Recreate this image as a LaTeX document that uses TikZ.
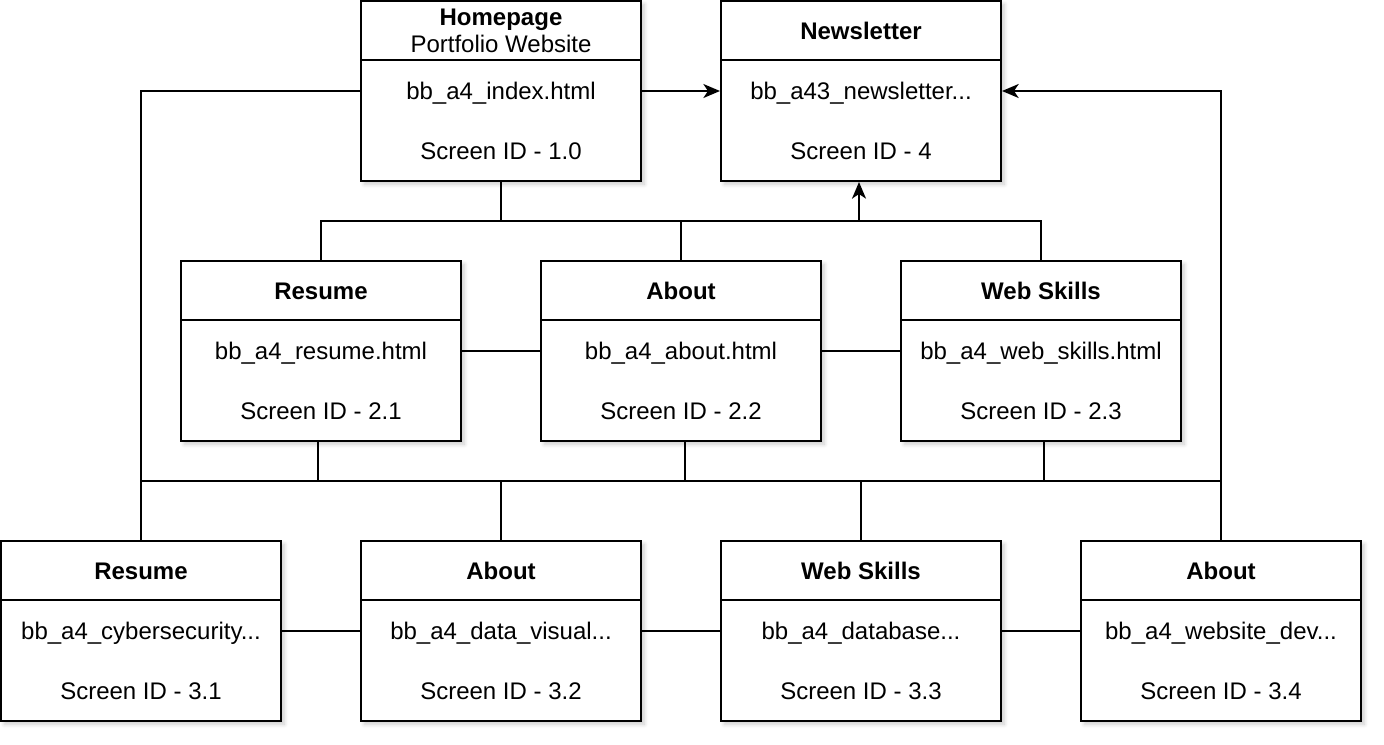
\documentclass[tikz,border=0pt]{standalone}
\usepackage{fontspec}
\setmainfont{Liberation Sans}
\usepackage{tikz}
\usetikzlibrary{arrows.meta}
\usetikzlibrary{shadows.blur}

\tikzset{
  screenbox/.style={draw, line width=1.5pt, fill=white, minimum width=210pt, minimum height=135pt, inner sep=0pt,
    blur shadow={shadow xshift=2.5pt, shadow yshift=-2.5pt, shadow blur radius=3pt, shadow blur steps=6, shadow opacity=20}},
  headline/.style={line width=1.5pt},
  titletext/.style={font=\fontsize{18}{20.25}\selectfont\bfseries, align=center, inner sep=0pt},
  bodytext/.style={font=\fontsize{18}{20.25}\selectfont, inner sep=0pt, text height=12.9pt, text depth=0pt},
  link/.style={line width=1.5pt},
  linkarrow/.style={line width=1.5pt, -{Stealth[length=12.5pt, width=10.5pt, inset=3.5pt]}}
}

\newcommand{\screenpage}[5]{%
  \node[screenbox] (#1) at (#2) {};
  \draw[headline] ([yshift=-45pt]#1.north west) -- ([yshift=-45pt]#1.north east);
  \node[titletext] (#1-title) at ([yshift=45pt]#1.center) {#3};
  \node[bodytext] (#1-file) at (#1.center) {#4};
  \node[bodytext] (#1-id) at ([yshift=-45pt]#1.center) {#5};
}

\begin{document}
\begin{tikzpicture}[x=0.75pt, y=-0.75pt]

\useasboundingbox (0,0) rectangle (1384,744);

\screenpage{home}{501,91}{Homepage\\{\mdseries Portfolio Website}}{bb\_a4\_index.html}{Screen ID - 1.0}
\screenpage{news}{861,91}{Newsletter}{bb\_a43\_newsletter...}{Screen ID - 4}

\screenpage{res2}{321,351}{Resume}{bb\_a4\_resume.html}{Screen ID - 2.1}
\screenpage{abt2}{681,351}{About}{bb\_a4\_about.html}{Screen ID - 2.2}
\screenpage{web2}{1041,351}{Web Skills}{bb\_a4\_web\_skills.html}{Screen ID - 2.3}

\screenpage{res3}{141,631}{Resume}{bb\_a4\_cybersecurity...}{Screen ID - 3.1}
\screenpage{abt3}{501,631}{About}{bb\_a4\_data\_visual...}{Screen ID - 3.2}
\screenpage{web3}{861,631}{Web Skills}{bb\_a4\_database...}{Screen ID - 3.3}
\screenpage{abt4}{1221,631}{About}{bb\_a4\_website\_dev...}{Screen ID - 3.4}

\coordinate (topbus) at (501,221);
\coordinate (midbus) at (141,481);

% top level
\draw[linkarrow] (home.east) -- (news.west);
\draw[link] (home.south) -- (topbus);
\draw[link] (res2.north) |- (topbus) -| (web2.north);
\draw[link] (abt2.north) -- (abt2.north |- topbus);
\draw[linkarrow] ([xshift=-1.5pt]news.south |- topbus) -- ([xshift=-1.5pt]news.south);

% second level
\draw[link] (res2.east) -- (abt2.west);
\draw[link] (abt2.east) -- (web2.west);
\draw[link] ([xshift=-2.25pt]res2.south) -- ([xshift=-2.25pt]res2.south |- midbus);
\draw[link] ([xshift=3pt]abt2.south) -- ([xshift=3pt]abt2.south |- midbus);
\draw[link] ([xshift=2.25pt]web2.south) -- ([xshift=2.25pt]web2.south |- midbus);

% third level
\draw[link] (home.west) -| (res3.north);
\draw[link] (res3.north |- midbus) -- (abt4.north |- midbus);
\draw[link] (abt3.north) -- (abt3.north |- midbus);
\draw[link] (web3.north) -- (web3.north |- midbus);
\draw[linkarrow] (abt4.north) |- (news.east);
\draw[link] (res3.east) -- (abt3.west);
\draw[link] (abt3.east) -- (web3.west);
\draw[link] (web3.east) -- (abt4.west);

\end{tikzpicture}
\end{document}
